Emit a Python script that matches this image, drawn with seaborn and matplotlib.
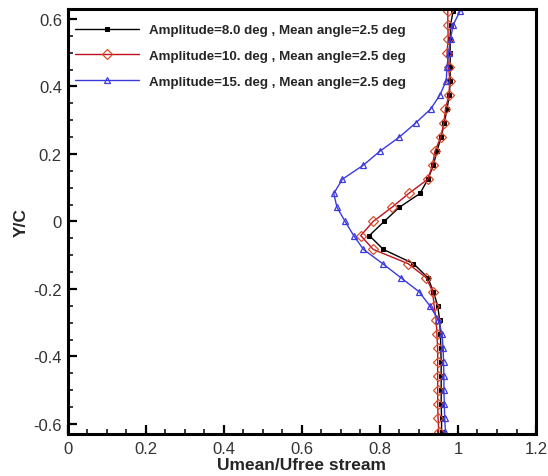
import numpy as np
import seaborn as sns
import matplotlib.pyplot as plt

# Y/C stations (top to bottom)
yc = [0.625, 0.583, 0.542, 0.500, 0.458, 0.417, 0.375, 0.333, 0.292, 0.250,
      0.208, 0.167, 0.125, 0.083, 0.042, 0.000, -0.042, -0.083, -0.125, -0.167,
      -0.208, -0.250, -0.292, -0.333, -0.375, -0.417, -0.458, -0.500, -0.542,
      -0.583, -0.625]

# Umean/Ufree stream for each amplitude
u_amp8 = [0.988, 0.981, 0.980, 0.980, 0.980, 0.980, 0.978, 0.972, 0.965, 0.957,
          0.946, 0.937, 0.923, 0.903, 0.850, 0.811, 0.773, 0.809, 0.886, 0.923,
          0.937, 0.948, 0.953, 0.955, 0.956, 0.957, 0.957, 0.957, 0.957, 0.958,
          0.958]
u_amp10 = [0.974, 0.974, 0.975, 0.972, 0.976, 0.979, 0.977, 0.968, 0.964, 0.956,
           0.941, 0.935, 0.923, 0.874, 0.831, 0.783, 0.751, 0.783, 0.872, 0.919,
           0.935, 0.939, 0.944, 0.946, 0.948, 0.948, 0.948, 0.948, 0.948, 0.949,
           0.951]
u_amp15 = [1.006, 0.988, 0.981, 0.976, 0.972, 0.970, 0.954, 0.930, 0.892, 0.850,
           0.800, 0.758, 0.704, 0.682, 0.690, 0.711, 0.733, 0.758, 0.807, 0.854,
           0.900, 0.928, 0.950, 0.959, 0.962, 0.963, 0.964, 0.964, 0.965, 0.966,
           0.968]

labels = ['Amplitude=8.0 deg , Mean angle=2.5 deg',
          'Amplitude=10. deg , Mean angle=2.5 deg',
          'Amplitude=15. deg , Mean angle=2.5 deg']

sns.set_style('ticks')
plt.rcParams['font.family'] = ['Liberation Sans', 'DejaVu Sans']

fig = plt.figure(figsize=(5.48, 4.77), dpi=100)
ax = fig.add_axes([0.1232, 0.088, 0.855, 0.890])

sns.lineplot(x=u_amp8, y=yc, sort=False, estimator=None, ax=ax, color='black',
             lw=1, marker='s', markersize=2.2, markeredgecolor='black',
             label=labels[0])
sns.lineplot(x=u_amp10, y=yc, sort=False, estimator=None, ax=ax, color='#c0101e',
             lw=1, marker='D', markersize=5, markerfacecolor='none',
             markeredgecolor='#d4502a', markeredgewidth=0.9, label=labels[1])
sns.lineplot(x=u_amp15, y=yc, sort=False, estimator=None, ax=ax, color='#3a3ae0',
             lw=1, marker='^', markersize=5, markerfacecolor='none',
             markeredgecolor='#3a3ae0', markeredgewidth=0.9, label=labels[2])

ax.set_xlim(0, 1.2)
ax.set_ylim(-0.63, 0.628)
ax.set_xticks(np.arange(0, 1.21, 0.2))
ax.set_xticklabels(['0', '0.2', '0.4', '0.6', '0.8', '1', '1.2'])
ax.set_xticks(np.arange(0, 1.21, 0.05), minor=True)
ax.set_yticks(np.arange(-0.6, 0.61, 0.2))
ax.set_yticklabels(['-0.6', '-0.4', '-0.2', '0', '0.2', '0.4', '0.6'])
ax.set_yticks(np.arange(-0.6, 0.61, 0.05), minor=True)

ax.tick_params(which='major', direction='in', length=6.5, width=1.6,
               labelsize=12, labelcolor='#333333', color='black')
ax.tick_params(which='minor', direction='in', length=3.5, width=1.1,
               color='black')
ax.tick_params(axis='x', which='major', pad=5)
ax.tick_params(axis='y', which='major', pad=4)

for s in ax.spines.values():
    s.set_linewidth(2.2)
    s.set_color('black')

ax.set_xlabel('Umean/Ufree stream', fontsize=12.5, fontweight='bold', labelpad=1)
ax.set_ylabel('Y/C', fontsize=12.5, fontweight='bold', labelpad=3)

leg = ax.legend(loc='upper left', bbox_to_anchor=(0.016, 0.966), frameon=False,
                borderpad=0, borderaxespad=0, handlelength=4.8,
                handletextpad=0.75, labelspacing=1.0,
                prop={'weight': 'bold', 'size': 9.6})

fig.savefig('out.png', dpi=100)
